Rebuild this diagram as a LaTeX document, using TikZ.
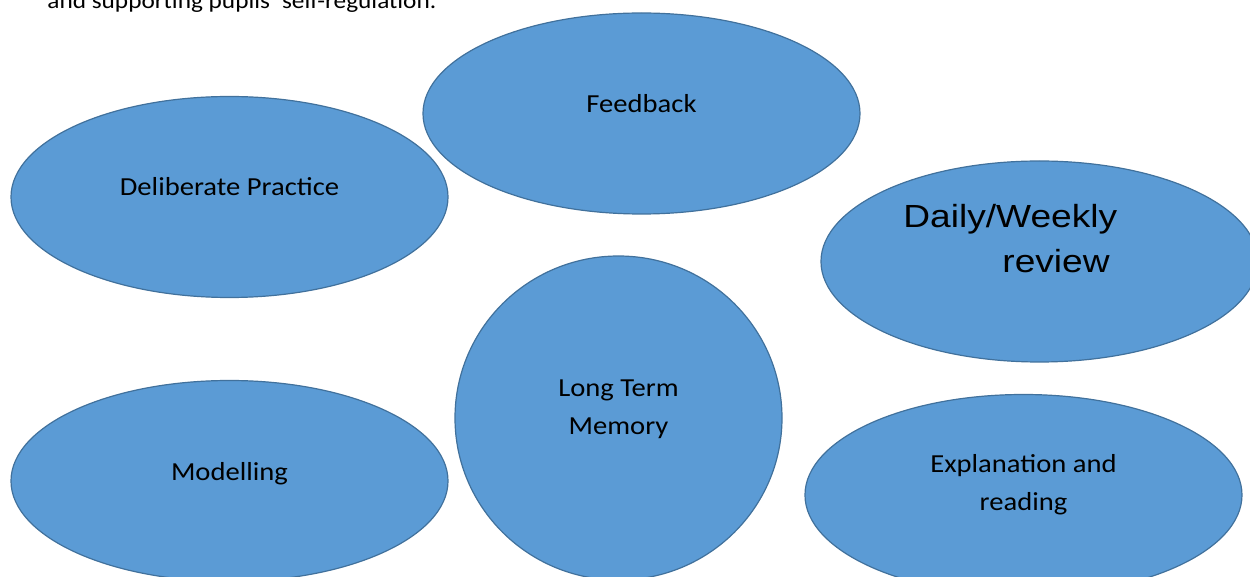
\documentclass[tikz,border=0pt]{standalone}
\usepackage{fontspec}
\setmainfont{Carlito}[FakeStretch=1.1]
\newfontfamily\arialfont{Liberation Sans}[FakeStretch=1.16]
\usetikzlibrary{shapes.geometric}

\definecolor{bubblefill}{RGB}{91,155,213}
\definecolor{bubbleline}{RGB}{65,113,156}

\tikzset{
  bubble/.style={ellipse, draw=bubbleline, fill=bubblefill, line width=0.6pt,
    minimum width=218.5pt, minimum height=100.5pt, inner sep=0pt},
  bubbletext/.style={font=\fontsize{13pt}{18.8pt}\selectfont, align=center, inner sep=0pt}
}

\begin{document}
\begin{tikzpicture}[x=0.5pt, y=-0.5pt]
    \clip (0,0) rectangle (1250,577);
    \node[anchor=base west, inner sep=0pt, font=\fontsize{11.5pt}{14pt}\selectfont]
      (intro) at (47,9) {and supporting pupils’ self-regulation.};

    % the bubbles
    \node[bubble] (feedback) at (641.5,113.5) {};
    \node[bubble] (practice) at (229.5,197) {};
    \node[bubble] (review) at (1039.5,261.5) {};
    \node[bubble, minimum width=163.5pt, minimum height=162pt] (memory) at (618.5,418) {};
    \node[bubble] (modelling) at (229.5,481) {};
    \node[bubble] (explain) at (1023.5,495) {};

    % their texts, set a little above the middle
    \node[bubbletext] (feedback-txt) at ([yshift=5pt]feedback.center) {Feedback};
    \node[bubbletext] (practice-txt) at ([yshift=5pt]practice.center) {Deliberate Practice};
    \node[bubbletext] (memory-txt) at ([yshift=4.5pt]memory.center) {Long Term\\Memory};
    \node[bubbletext] (modelling-txt) at ([yshift=3.5pt]modelling.center) {Modelling};
    \node[bubbletext] (explain-txt) at ([yshift=5.25pt]explain.center) {Explanation and\\reading};
    \node[anchor=west, align=left, inner sep=0pt, font=\arialfont\fontsize{16pt}{22.5pt}\selectfont]
      (review-txt) at ([xshift=-68.25pt, yshift=11.25pt]review.center)
      {Daily/Weekly\\\hspace*{49.5pt}review};
\end{tikzpicture}
\end{document}
